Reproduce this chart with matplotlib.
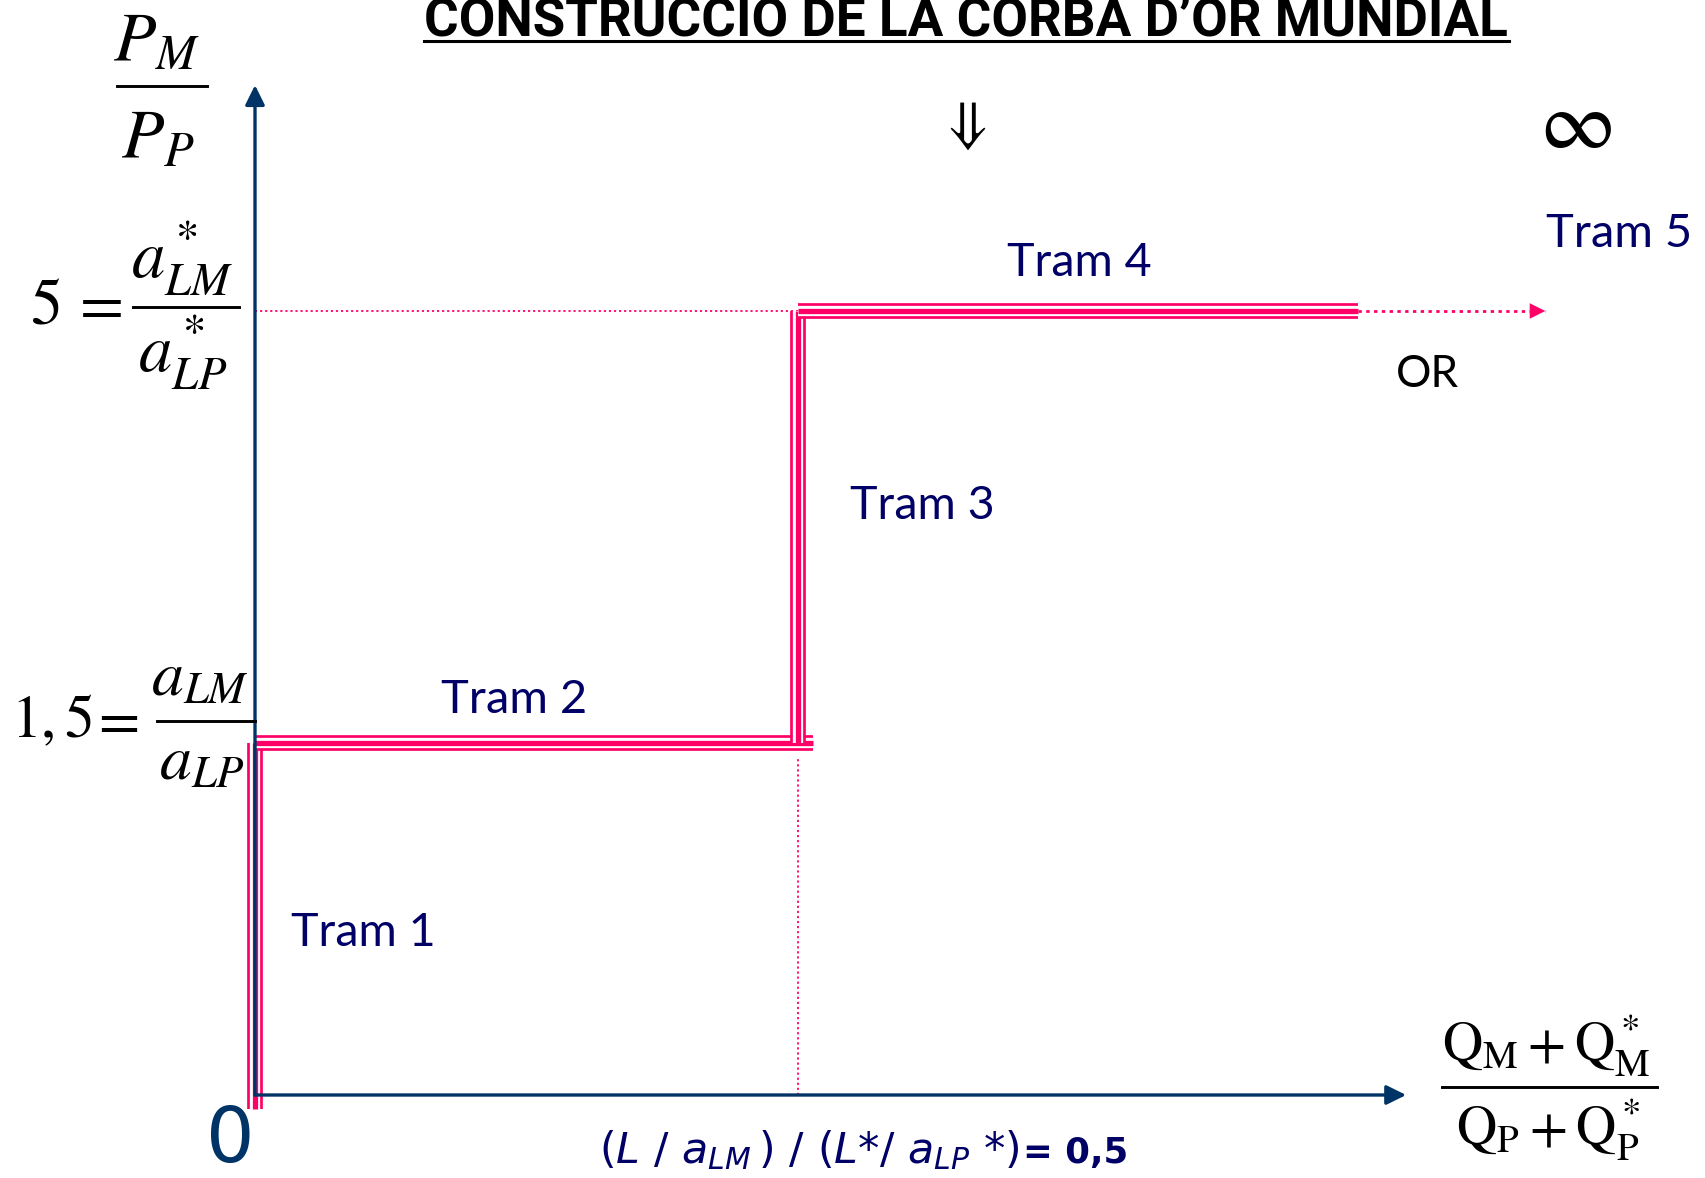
import matplotlib
matplotlib.use('Agg')
import matplotlib.pyplot as plt
import numpy as np
from matplotlib.lines import Line2D

W, H = 1705, 1178
pink = '#ff0066'
navy = '#000066'
axis_blue = '#003366'

# relative price levels  (a_LM / a_LP  and  a*_LM / a*_LP)
price_levels = [1.5, 5.0]
# relative quantity where the home country is fully specialised
q_break = 0.5

# world relative supply curve, one piece per "tram"
tram1_x = [0.0, 0.0]
tram1_y = [-0.06, 1.5]
tram2_x = [0.0, 0.513]
tram2_y = [1.5, 1.5]
tram3_x = [0.5, 0.5]
tram3_y = [1.5, 5.0]
tram4_x = [0.5, 1.015]
tram4_y = [5.0, 5.0]
tram5_x = [1.015, 1.187]
tram5_y = [5.0, 5.0]

tram_labels = ['Tram 1', 'Tram 2', 'Tram 3', 'Tram 4', 'Tram 5']

# schematic (non linear) price axis
yk = np.array([0.0, 1.5, 5.0])
pk = np.array([0.0, 352.0, 784.0])


def fwd(v):
    v = np.asarray(v, float)
    out = np.interp(v, yk, pk)
    out = np.where(v < yk[0], pk[0] + (v - yk[0]) * (pk[1] - pk[0]) / (yk[1] - yk[0]), out)
    out = np.where(v > yk[-1], pk[-1] + (v - yk[-1]) * (pk[-1] - pk[-2]) / (yk[-1] - yk[-2]), out)
    return out


def inv(p):
    p = np.asarray(p, float)
    out = np.interp(p, pk, yk)
    out = np.where(p < pk[0], yk[0] + (p - pk[0]) * (yk[1] - yk[0]) / (pk[1] - pk[0]), out)
    out = np.where(p > pk[-1], yk[-1] + (p - pk[-1]) * (yk[-1] - yk[-2]) / (pk[-1] - pk[-2]), out)
    return out


fig = plt.figure(figsize=(W / 100, H / 100), dpi=100)
ax = fig.add_axes([0, 0, 1, 1])
ax.set_yscale('function', functions=(fwd, inv))
ax.set_xlim(-255 / 1087, (W - 255) / 1087)
ax.set_ylim(float(inv(-(H - 1095))), float(inv(1095)))
ax.axis('off')


def tram(xs, ys):
    for c, lw in [(pink, 11.3), ('white', 7.4), (pink, 3.8)]:
        ax.plot(xs, ys, color=c, lw=lw, solid_capstyle='butt', zorder=3)


tram(tram1_x, tram1_y)
tram(tram2_x, tram2_y)
tram(tram3_x, tram3_y)
tram(tram4_x, tram4_y)

dots = (0, (1.2, 1.6))
ax.plot([0, q_break], [price_levels[1]] * 2, color=pink, lw=1.3, ls=dots, zorder=2)
ax.plot([q_break, q_break], [0, 1.436], color=pink, lw=1.3, ls=dots, zorder=2)
ax.plot(tram5_x, tram5_y, color=pink, lw=2, ls=dots, zorder=2)
ax.annotate('', xy=(tram5_x[1], tram5_y[1]), xytext=(tram5_x[1] - 0.02, tram5_y[1]),
            arrowprops=dict(arrowstyle='-|>,head_length=0.8,head_width=0.4', color=pink,
                            lw=0, mutation_scale=14, shrinkA=0, shrinkB=0))

# axes
arr = dict(arrowstyle='-|>,head_length=0.85,head_width=0.42', color=axis_blue, lw=2.4,
           mutation_scale=14, shrinkA=0, shrinkB=0)
ax.annotate('', xy=(0, 6.83), xytext=(0, 0), arrowprops=arr, zorder=5)
ax.annotate('', xy=(1.059, 0), xytext=(0, 0), arrowprops=arr, zorder=5)

renderer = fig.canvas.get_renderer()


def fx(x):
    return x / W


def fy(y):
    return 1 - y / H


def put(x0, x1, y, s, va='baseline', **kw):
    t = fig.text(fx(x0), fy(y), s, ha='left', va=va, **kw)
    bb = t.get_window_extent(renderer)
    t.set_fontsize(t.get_fontsize() * (x1 - x0) / bb.width)
    return t


def frac(num, den, ncx, nby, dcx, dby, bx0, bx1, by, size):
    fig.text(fx(ncx), fy(nby), num, ha='center', va='baseline', fontsize=size,
             math_fontfamily='stix')
    fig.text(fx(dcx), fy(dby), den, ha='center', va='baseline', fontsize=size,
             math_fontfamily='stix')
    fig.add_artist(Line2D([fx(bx0), fx(bx1)], [fy(by)] * 2, color='black', lw=2.1))


def stix(x, y, s, size, ha='left'):
    fig.text(fx(x), fy(y), s, ha=ha, va='baseline', fontsize=size, math_fontfamily='stix')


# title
put(424, 1509, 35, "CONSTRUCCIO DE LA CORBA D\u2019OR MUNDIAL", fontsize=36,
    family='Roboto', weight='bold', color='black')
fig.add_artist(Line2D([fx(424), fx(1509)], [fy(41)] * 2, color='black', lw=2.2))

# tram labels
tram_pos = [(291, 436, 946), (441, 587, 713), (850, 995, 519), (1007, 1152, 276), (1546, 1692, 247)]
for lab, (x0, x1, yb) in zip(tram_labels, tram_pos):
    put(x0, x1, yb, lab, fontsize=30, family='Lato', color=navy)
put(1396, 1459, 387, 'OR', fontsize=30, family='Lato', color='black')

# price axis labels
frac(r'$P_M$', r'$P_P$', 156, 60, 158, 157, 117, 207, 86, 50)
stix(30, 323, r'$5$', 46)
stix(70, 323, r'$=$', 46)
frac(r'$a^*_{LM}$', r'$a^*_{LP}$', 182, 278, 183, 372, 133, 239, 307, 48)
stix(11, 737, r'$1,5$', 43)
stix(90, 737, r'$=$', 43)
frac(r'$a_{LM}$', r'$a_{LP}$', 200, 696, 202, 780, 157, 255, 721, 46)

# quantity axis label
frac(r'$\mathrm{Q_M+Q^*_M}$', r'$\mathrm{Q_P+Q^*_P}$', 1546, 1062, 1548, 1146, 1442, 1657, 1087, 40)

fig.text(fx(963), fy(125), r'$\Downarrow$', ha='center', va='center', fontsize=42,
         math_fontfamily='stix', color='black')
put(1539, 1612, 125, r'$\infty$', va='center', fontsize=60, math_fontfamily='stix')

# origin and quantity mark
fig.text(fx(230), fy(1178), '0', ha='center', va='bottom', fontsize=55,
         family='DejaVu Sans', color=axis_blue)
put(599, 1019, 1163,
    r'$\mathit{(L\ /\ a_{LM}\,)\ /\ (L}\text{*}\mathit{/\ a_{LP}\ }\text{*}\mathit{)}$',
    fontsize=30, math_fontfamily='dejavusans', color=navy)
put(1023, 1128, 1163, '= 0,5', fontsize=30, family='DejaVu Sans', weight='bold', color=navy)

fig.savefig('out.png', dpi=100)
